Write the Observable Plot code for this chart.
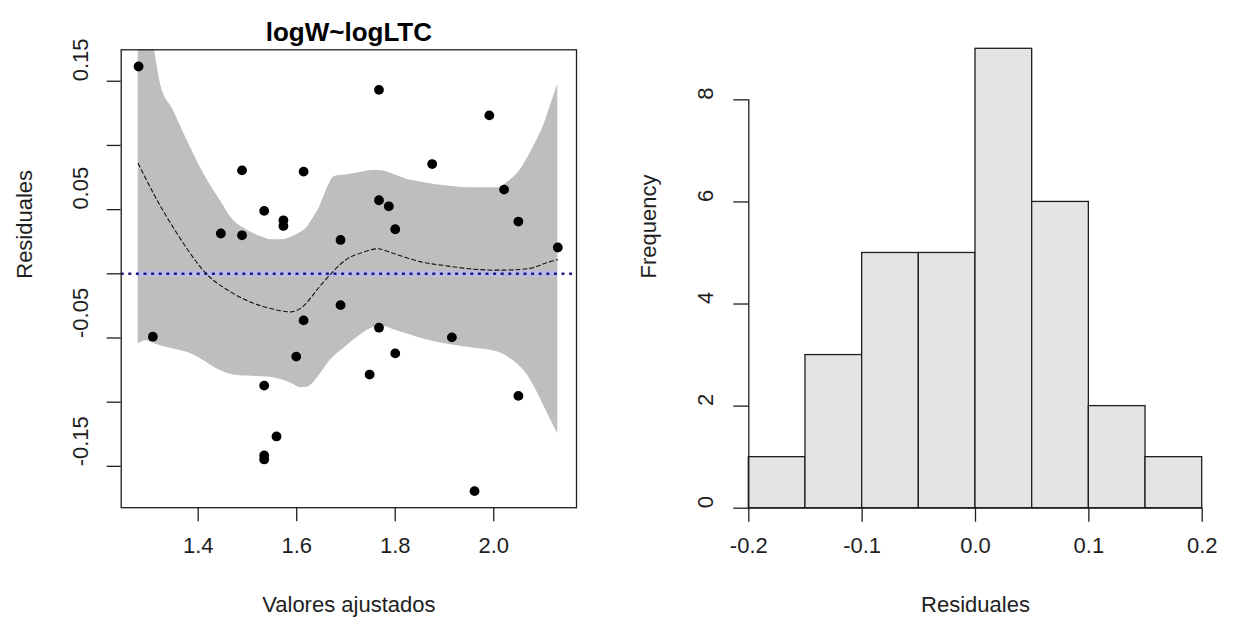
<!DOCTYPE html>
<html><head><meta charset="utf-8">
<script src="https://cdn.jsdelivr.net/npm/d3@7"></script>
<script src="https://cdn.jsdelivr.net/npm/@observablehq/plot@0.6"></script>
<style>
body{margin:0;background:#fff;}
#wrap{position:relative;width:1235px;height:630px;overflow:hidden;background:#fff;}
#left,#right{position:absolute;top:0;}
#left{left:0;} #right{left:617px;}
</style></head><body>
<div id="wrap"><div id="left"></div><div id="right"></div></div>
<script>
// ---- Left panel: residuals vs fitted ----
const fitted = [1.279, 1.489, 1.614, 1.534, 1.573, 1.573, 1.446, 1.489, 1.767, 1.991, 1.875, 2.021, 1.767, 1.787, 2.050, 1.800, 1.689, 2.130,
                1.308, 1.614, 1.599, 1.534, 1.559, 1.534, 1.534, 1.689, 1.767, 1.915, 1.800, 1.748, 2.050, 1.961];
const residuals = [0.1615, 0.0806, 0.0796, 0.049, 0.0417, 0.0373, 0.0314, 0.030, 0.1433, 0.1234, 0.0855, 0.0656, 0.0573, 0.0526, 0.0407, 0.0347, 0.0264, 0.0205,
                   -0.049, -0.0363, -0.0645, -0.0871, -0.1267, -0.1415, -0.1446, -0.0244, -0.042, -0.0495, -0.062, -0.0785, -0.0951, -0.1693];

// confidence band of the smoother
const bandX  = [1.2782, 1.295, 1.3112, 1.3234, 1.350, 1.3777, 1.4114, 1.445, 1.472, 1.500, 1.527, 1.550, 1.573, 1.5925, 1.6077, 1.621, 1.6277, 1.648, 1.6645, 1.6767, 1.699, 1.723, 1.757, 1.777, 1.800, 1.825, 1.859, 1.900, 1.950, 2.008, 2.030, 2.050, 2.069, 2.085, 2.103, 2.116, 2.130];
const bandHi = [0.240, 0.205, 0.1745, 0.148, 0.127, 0.1038, 0.0779, 0.057, 0.0415, 0.034, 0.029, 0.0265, 0.0267, 0.029, 0.0321, 0.036, 0.0399, 0.0532, 0.0687, 0.0758, 0.0769, 0.0785, 0.0806, 0.080, 0.077, 0.0735, 0.071, 0.0685, 0.0671, 0.0671, 0.072, 0.079, 0.0904, 0.102, 0.117, 0.132, 0.1475];
const bandLo = [-0.0547, -0.0521, -0.0545, -0.056, -0.0585, -0.0612, -0.0677, -0.0754, -0.0788, -0.0797, -0.0801, -0.0808, -0.083, -0.086, -0.0887, -0.0884, -0.087, -0.078, -0.069, -0.064, -0.057, -0.0495, -0.0418, -0.041, -0.044, -0.0469, -0.051, -0.0545, -0.0575, -0.061, -0.065, -0.071, -0.079, -0.09, -0.104, -0.114, -0.1247];

// smoother (dashed line)
const smoothX = [1.2782, 1.310, 1.343, 1.380, 1.414, 1.445, 1.479, 1.520, 1.567, 1.594, 1.614, 1.632, 1.648, 1.675, 1.700, 1.723, 1.757, 1.777, 1.811, 1.852, 1.892, 1.960, 2.028, 2.075, 2.103, 2.130];
const smoothY = [0.086, 0.062, 0.040, 0.018, 0.001, -0.009, -0.017, -0.024, -0.0288, -0.0293, -0.025, -0.017, -0.0093, 0.0023, 0.011, 0.0153, 0.0192, 0.0184, 0.014, 0.0093, 0.0068, 0.0036, 0.0029, 0.0044, 0.008, 0.011];

const leftXTicks = [1.4, 1.6, 1.8, 2.0];
const leftXTickLabels = ["1.4", "1.6", "1.8", "2.0"];
const leftYTicks = [-0.15, -0.10, -0.05, 0, 0.05, 0.10, 0.15];
const leftYLabelValues = [0.15, 0.05, -0.05, -0.15];
const leftYLabels = ["0.15", "0.05", "-0.05", "-0.15"];

// ---- Right panel: histogram ----
const binEdges = [-0.2, -0.15, -0.1, -0.05, 0, 0.05, 0.1, 0.15, 0.2];
const counts = [1, 3, 5, 5, 9, 6, 2, 1];
const histXTicks = [-0.2, -0.1, 0, 0.1, 0.2];
const histXTickLabels = ["-0.2", "-0.1", "0.0", "0.1", "0.2"];
const histYTicks = [0, 2, 4, 6, 8];

const FONT = "'Liberation Sans', Arial, Helvetica, sans-serif";
const INK = "#1e1e1e";

const pts = fitted.map((x, i) => ({x, y: residuals[i]}));
const band = bandX.map((x, i) => ({x, lo: bandLo[i], hi: bandHi[i]}));
const smooth = smoothX.map((x, i) => ({x, y: smoothY[i]}));

const left = Plot.plot({
  width: 617, height: 630,
  marginLeft: 120.7, marginRight: 41, marginTop: 49.3, marginBottom: 122.8,
  style: {fontFamily: FONT, background: "white", color: INK},
  x: {domain: [1.2437, 2.168]},
  y: {domain: [-0.1822, 0.1745]},
  marks: [
    Plot.areaY(band, {x: "x", y1: "lo", y2: "hi", fill: "#bebebe", curve: "monotone-x", clip: true}),
    Plot.ruleY([0], {x1: bandX[0], x2: bandX[bandX.length - 1], stroke: "#bcbce6", strokeWidth: 6}),
    Plot.ruleY([0], {stroke: "#1d1d84", strokeWidth: 2.5, strokeDasharray: "3,4.6"}),
    Plot.line(smooth, {x: "x", y: "y", stroke: "#111", strokeWidth: 1.1, strokeDasharray: "4,3", curve: "natural"}),
    Plot.dot(pts, {x: "x", y: "y", r: 4.9, fill: "#000", stroke: "none"}),
    Plot.frame({stroke: INK, strokeWidth: 1.3}),
    Plot.axisY({ticks: leftYTicks, tickSize: 14, tickFormat: () => "", label: null, stroke: INK, strokeWidth: 1.3}),
    Plot.axisX({ticks: leftXTicks, tickSize: 14, tickFormat: () => "", label: null, stroke: INK, strokeWidth: 1.3}),
    Plot.text(leftYLabelValues, {y: d => d, text: (d, i) => leftYLabels[i], frameAnchor: "left", dx: -40.7, rotate: -90, fontSize: 22, fill: INK}),
    Plot.text(leftXTicks, {x: d => d, text: (d, i) => leftXTickLabels[i], frameAnchor: "bottom", dy: 45, fontSize: 22, fill: INK}),
    Plot.text(["logW~logLTC"], {text: d => d, frameAnchor: "top", dy: -27.6, fontSize: 26, fontWeight: "bold", fill: "#000"}),
    Plot.text(["Valores ajustados"], {text: d => d, frameAnchor: "bottom", dy: 104, fontSize: 22, fill: INK}),
    Plot.text(["Residuales"], {text: d => d, frameAnchor: "left", dx: -96, rotate: -90, fontSize: 22, fill: INK})
  ]
});
document.getElementById("left").appendChild(left);

const bins = counts.map((n, i) => ({x0: binEdges[i], x1: binEdges[i + 1], n}));

const right = Plot.plot({
  width: 618, height: 630,
  marginLeft: 131.3, marginRight: 33.3, marginTop: 48.3, marginBottom: 122.3,
  style: {fontFamily: FONT, background: "white", color: INK},
  x: {domain: [-0.2, 0.2]},
  y: {domain: [0, 9]},
  marks: [
    Plot.rectY(bins, {x1: "x0", x2: "x1", y: "n", fill: "#e4e4e4", stroke: INK, strokeWidth: 1.3}),
    Plot.ruleX([-0.2], {y1: 0, y2: 8, stroke: INK, strokeWidth: 1.3}),
    Plot.ruleY([0], {x1: -0.2, x2: 0.2, stroke: INK, strokeWidth: 1.3}),
    Plot.axisY({ticks: histYTicks, tickSize: 15, tickFormat: () => "", label: null, stroke: INK, strokeWidth: 1.3}),
    Plot.axisX({ticks: histXTicks, tickSize: 14, tickFormat: () => "", label: null, stroke: INK, strokeWidth: 1.3}),
    Plot.text(histYTicks, {y: d => d, text: d => String(d), frameAnchor: "left", dx: -42.8, rotate: -90, fontSize: 22, fill: INK}),
    Plot.text(histXTicks, {x: d => d, text: (d, i) => histXTickLabels[i], frameAnchor: "bottom", dy: 45, fontSize: 22, fill: INK}),
    Plot.text(["Frequency"], {text: d => d, frameAnchor: "left", dx: -99.5, rotate: -90, fontSize: 22, fill: INK}),
    Plot.text(["Residuales"], {text: d => d, frameAnchor: "bottom", dy: 104, fontSize: 22, fill: INK})
  ]
});
document.getElementById("right").appendChild(right);
</script>
</body></html>
